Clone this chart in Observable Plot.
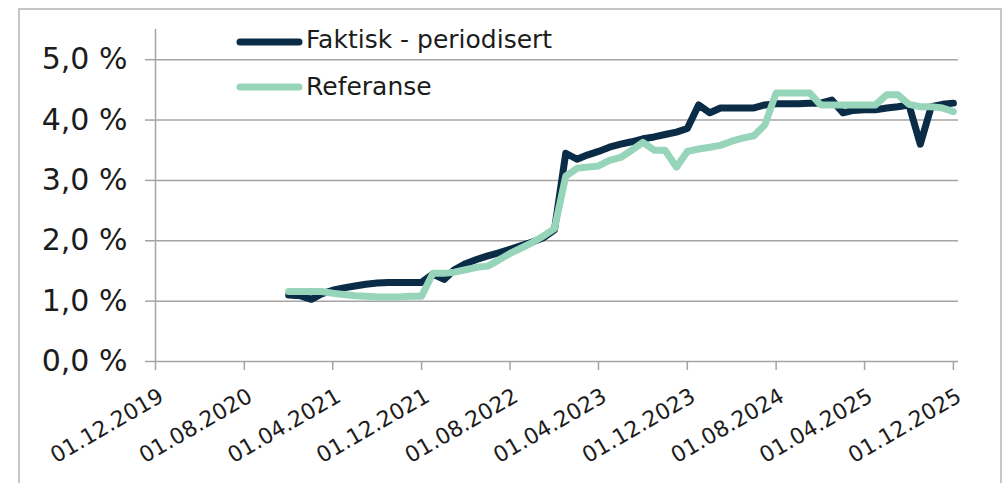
<!DOCTYPE html>
<html><head><meta charset="utf-8">
<script src="https://cdn.jsdelivr.net/npm/d3@7"></script>
<script src="https://cdn.jsdelivr.net/npm/@observablehq/plot@0.6"></script>
<style>
html,body{margin:0;padding:0;background:#fff;overflow:hidden;}
#wrap{position:relative;width:1008px;height:483px;}
#frame{position:absolute;left:18px;top:8px;width:984px;height:520px;border:2px solid #c6c6c6;box-sizing:border-box;}
#chart{position:absolute;left:0;top:0;}
#legend{position:absolute;left:0;top:0;pointer-events:none;}
</style></head><body>
<div id="wrap"><div id="frame"></div><div id="chart"></div><svg id="legend" width="1008" height="483"></svg></div>
<script>
// ---- data (monthly, first month below) ----
const startMonth = "2020-12-01";
const seriesNames = ["Faktisk - periodisert", "Referanse"];
const seriesColors = ["#0b2c47", "#96d5ba"];
const faktisk = [
  1.10, 1.09, 1.03, 1.12, 1.18, 1.22, 1.25, 1.28, 1.30, 1.31, 1.31, 1.31, 1.31,
  1.45, 1.36, 1.52, 1.62, 1.69, 1.75, 1.80, 1.86, 1.92, 1.98, 2.05, 2.18,
  3.45, 3.35, 3.42, 3.48, 3.55, 3.60, 3.64, 3.69, 3.72, 3.76, 3.80, 3.86,
  4.25, 4.12, 4.20, 4.20, 4.20, 4.20, 4.25, 4.27, 4.27, 4.27, 4.28, 4.28,
  4.33, 4.12, 4.16, 4.17, 4.17, 4.20, 4.22, 4.25, 3.60, 4.22, 4.26, 4.28
];
const referanse = [
  1.16, 1.16, 1.16, 1.16, 1.13, 1.11, 1.09, 1.08, 1.07, 1.07, 1.07, 1.08, 1.08,
  1.46, 1.46, 1.48, 1.52, 1.56, 1.58, 1.68, 1.79, 1.88, 1.97, 2.08, 2.20,
  3.07, 3.20, 3.22, 3.24, 3.33, 3.38, 3.50, 3.63, 3.50, 3.50, 3.22, 3.48,
  3.52, 3.55, 3.58, 3.65, 3.70, 3.74, 3.92, 4.45, 4.45, 4.45, 4.45, 4.25,
  4.25, 4.25, 4.25, 4.25, 4.25, 4.42, 4.42, 4.26, 4.22, 4.22, 4.20, 4.14
];
const xTickDates = ["2019-12-01","2020-08-01","2021-04-01","2021-12-01","2022-08-01",
                    "2023-04-01","2023-12-01","2024-08-01","2025-04-01","2025-12-01"];
const yTicks = [0, 1, 2, 3, 4, 5];
const xDomain = ["2019-12-01", "2025-12-15"];
const yDomain = [0, 5.5];

// ---- build table ----
const rows = [];
[faktisk, referanse].forEach((vals, s) => {
  vals.forEach((v, i) => rows.push({
    date: d3.utcMonth.offset(new Date(startMonth), i),
    value: v,
    series: seriesNames[s]
  }));
});
const gridColor = "#a4a4a4";
const textColor = "#1c1c1c";
const xd = xDomain.map(d => new Date(d));
const xt = xTickDates.map(d => new Date(d));

const chart = Plot.plot({
  width: 1008, height: 483,
  marginLeft: 155, marginRight: 50, marginTop: 29, marginBottom: 122,
  style: {fontFamily: "DejaVu Sans", background: "transparent", color: textColor},
  x: {type: "utc", domain: xd},
  y: {domain: yDomain},
  color: {domain: seriesNames, range: seriesColors},
  marks: [
    Plot.gridY(yTicks, {stroke: gridColor, strokeOpacity: 1, strokeWidth: 1.5}),
    Plot.ruleX([xd[0]], {y1: yDomain[0], y2: yDomain[1], stroke: gridColor, strokeWidth: 1.5}),
    Plot.axisY(yTicks, {
      tickSize: 10, tickPadding: 18, fontSize: 30, stroke: gridColor, strokeWidth: 1.5, fill: textColor,
      tickFormat: d => d.toFixed(1).replace(".", ",") + " %", label: null
    }),
    // x tick marks only
    Plot.axisX(xt, {tickSize: 9, stroke: gridColor, strokeWidth: 1.5, tickFormat: () => "", label: null}),
    // x tick labels only (rotated)
    Plot.axisX(xt, {
      tickSize: 0, tickPadding: 29, tickRotate: -30, fontSize: 22,
      fill: textColor, textAnchor: "end", dx: 6, dy: 4,
      tickFormat: d3.utcFormat("%d.%m.%Y"), label: null
    }),
    Plot.line(rows, {x: "date", y: "value", z: "series", stroke: "series",
      strokeWidth: 7, strokeLinejoin: "round", strokeLinecap: "round"})
  ]
});
document.getElementById("chart").appendChild(chart);

// ---- legend (inside plot area, top-left) ----
const lg = d3.select("#legend");
const legendRows = [{y: 42, base: 48}, {y: 87, base: 95}];
seriesNames.forEach((name, i) => {
  lg.append("line").attr("x1", 240).attr("x2", 299)
    .attr("y1", legendRows[i].y).attr("y2", legendRows[i].y)
    .attr("stroke", seriesColors[i]).attr("stroke-width", 7).attr("stroke-linecap", "round");
  lg.append("text").attr("x", 306).attr("y", legendRows[i].base)
    .attr("font-family", "DejaVu Sans").attr("font-size", 25).attr("fill", textColor)
    .text(name);
});
</script>
</body></html>
